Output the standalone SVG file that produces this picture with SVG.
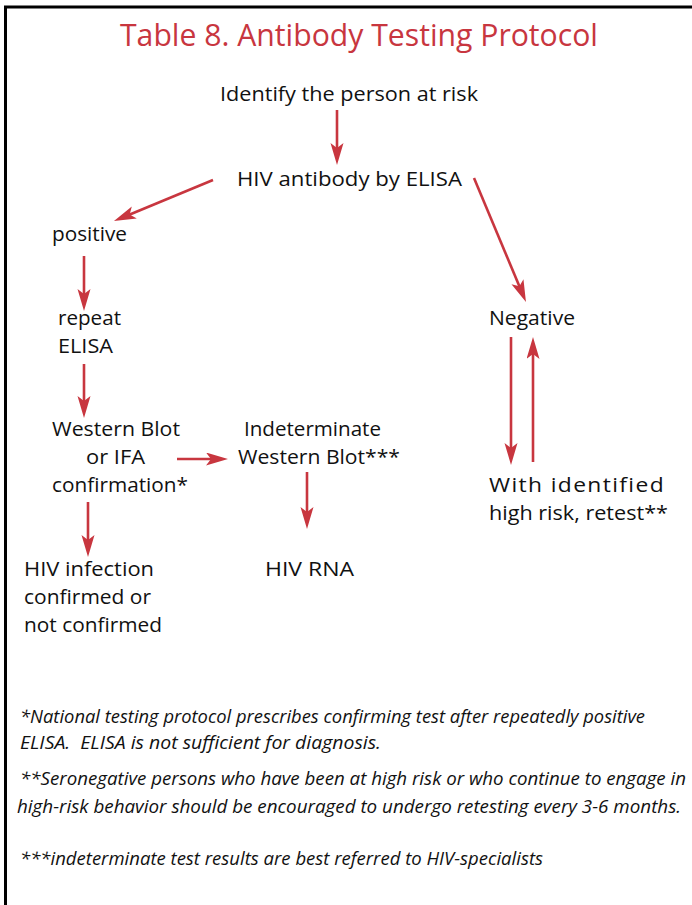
<svg xmlns="http://www.w3.org/2000/svg" width="692" height="905" viewBox="0 0 692 905">
<style>
.t{font-family:"Open Sans","Noto Sans",sans-serif;font-size:20px;fill:#111}
.f{font-family:"Open Sans","Noto Sans",sans-serif;font-size:18px;font-style:italic;fill:#111;white-space:pre}
.ttl{font-family:"Open Sans","Noto Sans",sans-serif;font-size:31px;font-weight:500;fill:#c8363f}
.c{stroke:#c8363f;stroke-width:2.6;fill:none;marker-end:url(#ah)}
</style>
<defs>
<marker id="ah" markerUnits="userSpaceOnUse" markerWidth="24" markerHeight="14" refX="12" refY="6.5" orient="auto">
<path d="M0,0 L22,6.5 L0,13 L5,6.5 z" fill="#c8363f"/>
</marker>
</defs>
<rect width="692" height="905" fill="#fff"/>
<path d="M5.5,905 V7 H692" fill="none" stroke="#000" stroke-width="3"/>
<text class="ttl" x="120" y="46" textLength="478" lengthAdjust="spacingAndGlyphs">Table 8. Antibody Testing Protocol</text>

<g id="identify"><text class="t" x="220" y="101" textLength="258" lengthAdjust="spacingAndGlyphs">Identify the person at risk</text></g>
<g id="elisa"><text class="t" x="237" y="186" textLength="225" lengthAdjust="spacingAndGlyphs">HIV antibody by ELISA</text></g>
<g id="positive"><text class="t" x="52" y="241" textLength="75" lengthAdjust="spacingAndGlyphs">positive</text></g>
<g id="repeat"><text class="t" x="58" y="325" textLength="63" lengthAdjust="spacingAndGlyphs">repeat</text><text class="t" x="58" y="353" textLength="55" lengthAdjust="spacingAndGlyphs">ELISA</text></g>
<g id="negative"><text class="t" x="489" y="325" textLength="86" lengthAdjust="spacingAndGlyphs">Negative</text></g>
<g id="western"><text class="t" x="52" y="436" textLength="128" lengthAdjust="spacingAndGlyphs">Western Blot</text><text class="t" x="86" y="464" textLength="59" lengthAdjust="spacingAndGlyphs">or IFA</text><text class="t" x="52" y="492" textLength="136" lengthAdjust="spacingAndGlyphs">confirmation*</text></g>
<g id="indeterminate"><text class="t" x="244" y="436" textLength="137" lengthAdjust="spacingAndGlyphs">Indeterminate</text><text class="t" x="238" y="464" textLength="162" lengthAdjust="spacingAndGlyphs">Western Blot***</text></g>
<g id="infection"><text class="t" x="24" y="576" textLength="130" lengthAdjust="spacingAndGlyphs">HIV infection</text><text class="t" x="24" y="604" textLength="127" lengthAdjust="spacingAndGlyphs">confirmed or</text><text class="t" x="24" y="632" textLength="138" lengthAdjust="spacingAndGlyphs">not confirmed</text></g>
<g id="rna"><text class="t" x="265" y="576" textLength="89" lengthAdjust="spacingAndGlyphs">HIV RNA</text></g>
<g id="retest"><text class="t" x="489" y="492" style="letter-spacing:1.2px" textLength="176" lengthAdjust="spacingAndGlyphs">With identified</text><text class="t" x="489" y="520" textLength="179" lengthAdjust="spacingAndGlyphs">high risk, retest**</text></g>

<g id="connectors">
<path class="c" d="M337,110 V155"/>
<path class="c" d="M213,180 L123.2,217.2"/>
<path class="c" d="M474,178 L522.1,292.8"/>
<path class="c" d="M84,256 V301"/>
<path class="c" d="M84,364 V408"/>
<path class="c" d="M88,502 V547"/>
<path class="c" d="M177,459 H218"/>
<path class="c" d="M307,472 V519"/>
<path class="c" d="M511,337 V455"/>
<path class="c" d="M533,462 V347"/>
</g>

<g id="footnotes">
<text class="f" x="20" y="723" textLength="625" lengthAdjust="spacingAndGlyphs">*National testing protocol prescribes confirming test after repeatedly positive</text>
<text class="f" x="20" y="749" textLength="361" lengthAdjust="spacingAndGlyphs">ELISA.  ELISA is not sufficient for diagnosis.</text>
<text class="f" x="20" y="785" textLength="666" lengthAdjust="spacingAndGlyphs">**Seronegative persons who have been at high risk or who continue to engage in</text>
<text class="f" x="17" y="813" textLength="664" lengthAdjust="spacingAndGlyphs">high-risk behavior should be encouraged to undergo retesting every 3-6 months.</text>
<text class="f" x="20" y="865" textLength="523" lengthAdjust="spacingAndGlyphs">***indeterminate test results are best referred to HIV-specialists</text>
</g>
</svg>
